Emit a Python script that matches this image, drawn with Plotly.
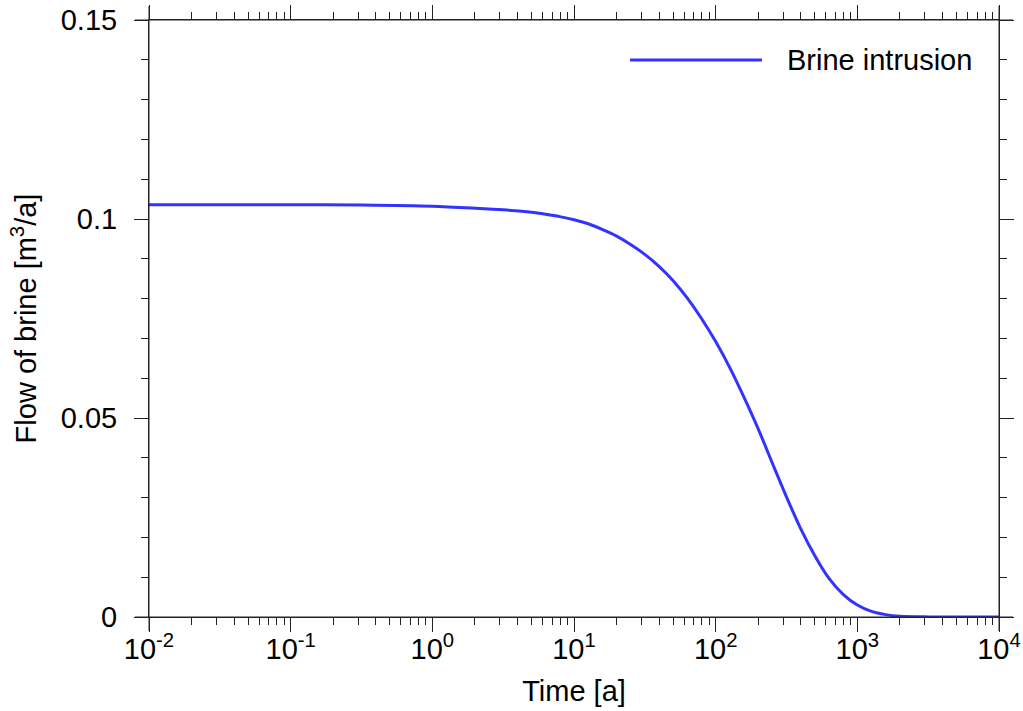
import plotly.graph_objects as go

# Data
time_a = [0.01, 0.1, 0.316, 1.0, 2.0, 3.16, 5.01, 6.31, 7.94, 10.0, 12.6, 15.8, 20.0,
          25.1, 31.6, 39.8, 50.1, 63.1, 79.4, 100, 126, 158, 200, 251, 316, 398, 501,
          631, 794, 1000, 1259, 1585, 1995, 3162, 5012, 10000]
flow_brine = [0.1036, 0.1036, 0.1035, 0.1032, 0.1027, 0.1023, 0.1017, 0.1012, 0.1006,
              0.0998, 0.0988, 0.0974, 0.0957, 0.0936, 0.0911, 0.0881, 0.0845, 0.0801,
              0.0750, 0.0692, 0.0626, 0.0553, 0.0472, 0.0387, 0.0302, 0.0222, 0.0154,
              0.0097, 0.0057, 0.0030, 0.0014, 0.0006, 0.0002, 0.00003, 0.0, 0.0]

x_tickvals = [0.01, 0.1, 1, 10, 100, 1000, 10000]
x_ticktext = ["10<sup>-2</sup>", "10<sup>-1</sup>", "10<sup>0</sup>", "10<sup>1</sup>",
              "10<sup>2</sup>", "10<sup>3</sup>", "10<sup>4</sup>"]
y_tickvals = [0, 0.05, 0.1, 0.15]
y_ticktext = ["0", "0.05", "0.1", "0.15"]
series_name = "Brine intrusion"

FONT = "Liberation Sans, Arial, sans-serif"
FS = 29
AX = "#222222"
LINE_COLOR = "#3333ff"

x_minor = [k * 10 ** e for e in range(-2, 4) for k in range(2, 10)]

fig = go.Figure()
fig.add_trace(go.Scatter(
    x=time_a, y=flow_brine, mode="lines", name=series_name,
    line=dict(color=LINE_COLOR, width=3, shape="spline", smoothing=0.8),
    showlegend=False,
))

fig.update_layout(
    width=1023, height=711,
    margin=dict(l=149, r=24, t=20, b=94, autoexpand=False),
    paper_bgcolor="white", plot_bgcolor="white",
    font=dict(family=FONT, size=FS, color="black"),
    xaxis=dict(
        type="log", range=[-2, 4], automargin=False,
        tickvals=x_tickvals, ticktext=x_ticktext,
        ticks="outside", ticklen=14, tickwidth=1, tickcolor=AX,
        minor=dict(tickvals=x_minor, ticks="outside", ticklen=7, tickwidth=1, tickcolor=AX),
        showline=True, linecolor=AX, linewidth=1, mirror="allticks",
        showgrid=False, zeroline=False,
        title=dict(text="Time [a]", font=dict(size=FS), standoff=16),
        tickfont=dict(size=FS),
        ticklabelposition="outside",
        ticklabelstandoff=-8,
    ),
    yaxis=dict(
        range=[0, 0.15], automargin=False,
        tickvals=y_tickvals, ticktext=y_ticktext,
        ticks="outside", ticklen=14, tickwidth=1, tickcolor=AX,
        minor=dict(dtick=0.01, ticks="outside", ticklen=7, tickwidth=1, tickcolor=AX),
        showline=True, linecolor=AX, linewidth=1, mirror="allticks",
        showgrid=False, zeroline=False,
        title=dict(text="Flow of brine [m<sup>3</sup>/a]", font=dict(size=FS), standoff=15),
        tickfont=dict(size=FS),
        ticklabelposition="outside",
        ticklabelstandoff=11,
    ),
)

# extended axis lines beyond the plot corners
ext_x = 14 / 850
ext_y = 14 / 597
for (x0, x1, y0, y1) in [(0, 0, -ext_y, 1 + ext_y), (1, 1, -ext_y, 1 + ext_y),
                         (-ext_x, 1 + ext_x, 0, 0), (-ext_x, 1 + ext_x, 1, 1)]:
    fig.add_shape(type="line", xref="paper", yref="paper", x0=x0, x1=x1, y0=y0, y1=y1,
                  line=dict(color=AX, width=1), layer="above")

# legend drawn manually (long sample line)
fig.add_shape(type="line", xref="paper", yref="paper",
              x0=(630 - 149) / 850, x1=(762 - 149) / 850,
              y0=(617 - 60) / 597, y1=(617 - 60) / 597,
              line=dict(color=LINE_COLOR, width=3))
fig.add_annotation(xref="paper", yref="paper", x=(785 - 149) / 850, y=(617 - 60) / 597,
                   text=series_name, showarrow=False, xanchor="left", yanchor="middle",
                   font=dict(size=FS, color="black"))

fig.write_html("out.html")
